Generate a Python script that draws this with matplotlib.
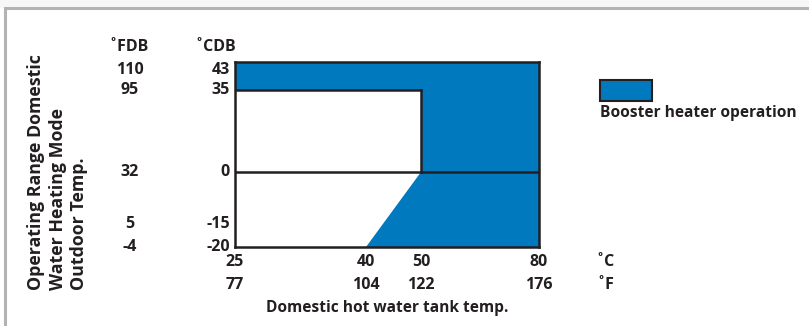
import numpy as np
import matplotlib
matplotlib.use('Agg')
import matplotlib.pyplot as plt
from matplotlib.patches import Rectangle
from matplotlib.lines import Line2D

plt.rcParams['font.family'] = ['Open Sans', 'DejaVu Sans']
plt.rcParams['font.weight'] = 'bold'

# tank temperature ticks (deg C and deg F)
tank_c = [25, 40, 50, 80]
tank_f = [77, 104, 122, 176]
# outdoor temperature ticks (deg C and deg F)
out_c = [43, 35, 0, -15, -20]
out_f = [110, 95, 32, 5, -4]

# booster heater region outline (tank C, outdoor C)
boost_x = [25, 80, 80, 40, 50, 50, 25]
boost_y = [43, 43, -20, -20, 0, 35, 35]

# divider lines inside the chart
div_lines = [([25, 50], [35, 35]), ([50, 50], [35, 0]), ([25, 80], [0, 0])]

blue = '#0079BF'
ink = '#231f20'

# the schematic is not to scale: piecewise linear axes
xd = [25, 40, 50, 80]
xp = [0, 131, 186, 304]
yd = [-20, 0, 35, 43]
yp = [0, 75, 157, 185]

W, H = 809, 326
fig = plt.figure(figsize=(W / 100, H / 100), dpi=100)

# outer frame
fig.patches.append(Rectangle((0, 318 / H), 1, 8 / H, transform=fig.transFigure,
                             facecolor='#f7f7f7', edgecolor='none'))
fig.add_artist(Line2D([5 / W, 1], [318 / H, 318 / H], color='#b3b3b3', lw=2.2))
fig.add_artist(Line2D([5 / W, 5 / W], [0, 318 / H], color='#b3b3b3', lw=2.2))

ax = fig.add_axes([235 / W, (H - 247) / H, 304 / W, 185 / H])
ax.set_xscale('function', functions=(lambda v: np.interp(v, xd, xp),
                                     lambda v: np.interp(v, xp, xd)))
ax.set_yscale('function', functions=(lambda v: np.interp(v, yd, yp),
                                     lambda v: np.interp(v, yp, yd)))
ax.set_xlim(25, 80)
ax.set_ylim(-20, 43)

ax.fill(boost_x, boost_y, color=blue, lw=0)
for lx, ly in div_lines:
    ax.plot(lx, ly, color=ink, lw=1.8, solid_capstyle='projecting')
for s in ax.spines.values():
    s.set_linewidth(1.8)
    s.set_color(ink)

ax.set_xticks(tank_c, ['{}\n{}'.format(c, f) for c, f in zip(tank_c, tank_f)])
ax.tick_params(axis='x', length=0, pad=5, labelsize=11.5, labelcolor=ink)
for lbl in ax.get_xticklabels():
    lbl.set_linespacing(1.55)
ax.set_yticks([])

# outdoor temperature labels, two columns
vas = ['top', 'center', 'center', 'baseline', 'center']
ytr = ax.get_yaxis_transform()
for c, f, va in zip(out_c, out_f, vas):
    ax.text(-5 / 304, c, str(c), transform=ytr, ha='right', va=va,
            fontsize=11.5, color=ink)
    ax.text(-105 / 304, c, str(f), transform=ytr, ha='center', va=va,
            fontsize=11.5, color=ink)

fig.text(129 / W, (H - 47) / H, '˚FDB', ha='center', va='center', fontsize=11.5, color=ink)
fig.text(215 / W, (H - 47) / H, '˚CDB', ha='center', va='center', fontsize=11.5, color=ink)
fig.text(605 / W, (H - 262) / H, '˚C', ha='center', va='center', fontsize=11.5, color=ink)
fig.text(605 / W, (H - 285) / H, '˚F', ha='center', va='center', fontsize=11.5, color=ink)

fig.text(387 / W, (H - 308) / H, 'Domestic hot water tank temp.', ha='center', va='center',
         fontsize=11.2, color=ink)

fig.text(58 / W, 36 / H, 'Operating Range Domestic\nWater Heating Mode\nOutdoor Temp.',
         rotation=90, ha='center', va='bottom', multialignment='left',
         fontsize=12.8, color=ink, linespacing=1.25)

# legend
fig.patches.append(Rectangle((600 / W, (H - 101) / H), 52 / W, 21 / H, transform=fig.transFigure,
                             facecolor=blue, edgecolor=ink, lw=1.5))
fig.text(600 / W, (H - 113) / H, 'Booster heater operation', ha='left', va='center',
         fontsize=11.2, color=ink)

fig.savefig('out.png', dpi=100)
